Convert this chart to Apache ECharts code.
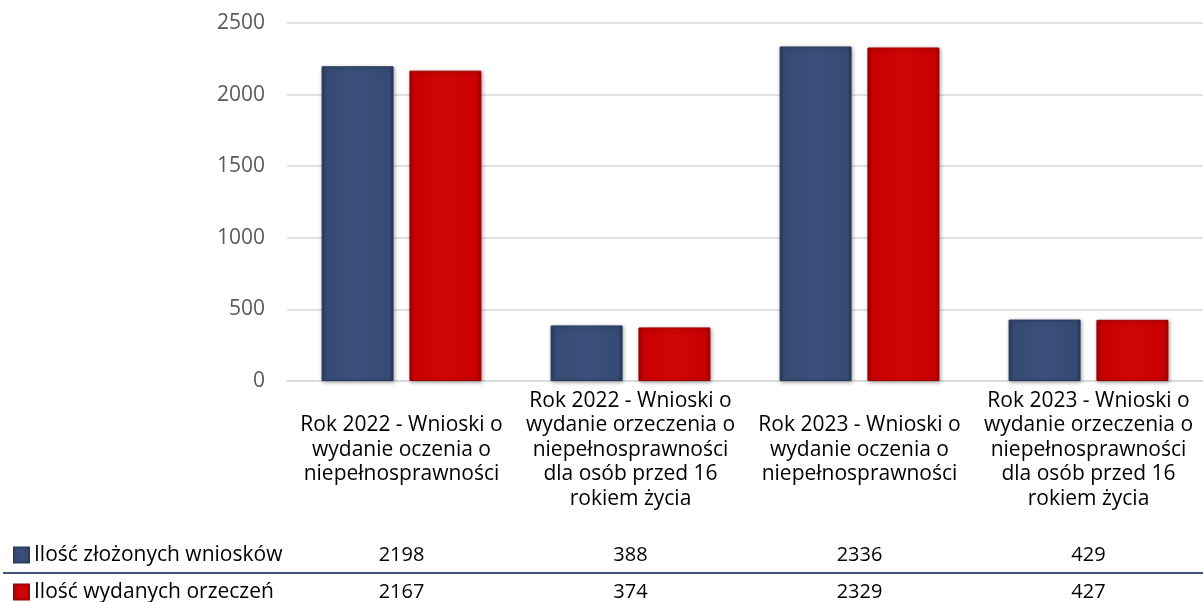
<!DOCTYPE html>
<html>
<head>
<meta charset="utf-8">
<script src="https://cdn.jsdelivr.net/npm/echarts@6/dist/echarts.min.js"></script>
<style>
html,body{margin:0;padding:0;background:#fff;}
#c{width:1203px;height:602px;}
</style>
</head>
<body>
<div id="c"></div>
<script>
var categories = [
  "Rok 2022 - Wnioski o\nwydanie oczenia o\nniepełnosprawności",
  "Rok 2022 - Wnioski o\nwydanie orzeczenia o\nniepełnosprawności\ndla osób przed 16\nrokiem życia",
  "Rok 2023 - Wnioski o\nwydanie oczenia o\nniepełnosprawności",
  "Rok 2023 - Wnioski o\nwydanie orzeczenia o\nniepełnosprawności\ndla osób przed 16\nrokiem życia"
];
var seriesNames = ["Ilość złożonych wniosków", "Ilość wydanych orzeczeń"];
var submitted = [2198, 388, 2336, 429];
var issued = [2167, 374, 2329, 427];
var yTicks = [0, 500, 1000, 1500, 2000, 2500];

var FONT = "Open Sans";
var FS = 21;
var chart = echarts.init(document.getElementById('c'));

function barGrad(edge, mid, light) {
  return new echarts.graphic.LinearGradient(0, 0, 1, 0, [
    {offset: 0, color: edge},
    {offset: 0.06, color: mid},
    {offset: 0.5, color: light},
    {offset: 0.94, color: mid},
    {offset: 1, color: edge}
  ]);
}
var blue = barGrad('#26375a', '#364b73', '#3a507a');
var red = barGrad('#9a0000', '#c80000', '#d00606');

function tableAxis(values, offset) {
  return {
    type: 'category', gridIndex: 0, position: 'bottom', offset: offset,
    data: categories,
    axisLine: {show: false}, axisTick: {show: false}, splitLine: {show: false},
    axisLabel: {
      interval: 0, margin: 0, verticalAlign: 'middle',
      fontFamily: FONT, fontSize: FS - 1, color: '#000',
      formatter: function (v, i) { return String(values[i]); }
    }
  };
}
function legendRow(name, top) {
  return {
    orient: 'vertical', left: 13, top: top, itemWidth: 15, itemHeight: 15,
    icon: 'rect', itemGap: 0, padding: 0, selectedMode: false,
    textStyle: {fontFamily: FONT, fontSize: FS, color: '#000', lineHeight: 24},
    data: [name]
  };
}

chart.setOption({
  animation: false,
  grid: {left: 287, right: -12, top: 23, bottom: 221, containLabel: false},
  legend: [legendRow(seriesNames[0], 543), legendRow(seriesNames[1], 580)],
  xAxis: [
    {
      type: 'category', data: categories,
      axisLine: {show: true, lineStyle: {color: '#d9d9d9', width: 1.5}},
      axisTick: {show: false},
      axisLabel: {
        interval: 0, margin: 69, verticalAlign: 'middle',
        fontFamily: FONT, fontSize: FS, lineHeight: 24.5, color: '#000', align: 'center'
      }
    },
    tableAxis(submitted, 174),
    tableAxis(issued, 211)
  ],
  yAxis: {
    type: 'value', min: yTicks[0], max: yTicks[yTicks.length - 1], interval: 500,
    axisLine: {show: false}, axisTick: {show: false},
    axisLabel: {margin: 22, fontFamily: FONT, fontSize: FS, color: '#595959',
      formatter: function (v) { return String(v); }},
    splitLine: {lineStyle: {color: '#d9d9d9', width: 1.5}}
  },
  graphic: [{
    type: 'line', shape: {x1: 3, y1: 573, x2: 1203, y2: 573},
    style: {stroke: '#3d5179', lineWidth: 2}
  }],
  series: [
    {
      name: seriesNames[0], type: 'bar', data: submitted, barWidth: 72, barGap: '22%',
      itemStyle: {color: blue, shadowBlur: 4, shadowColor: 'rgba(0,0,0,0.35)', shadowOffsetX: 1, shadowOffsetY: 1,
        borderColor: '#2a3c60', borderWidth: 1}
    },
    {
      name: seriesNames[1], type: 'bar', data: issued, barWidth: 72,
      itemStyle: {color: red, shadowBlur: 4, shadowColor: 'rgba(0,0,0,0.35)', shadowOffsetX: 1, shadowOffsetY: 1,
        borderColor: '#a00000', borderWidth: 1}
    }
  ]
});
</script>
</body>
</html>
